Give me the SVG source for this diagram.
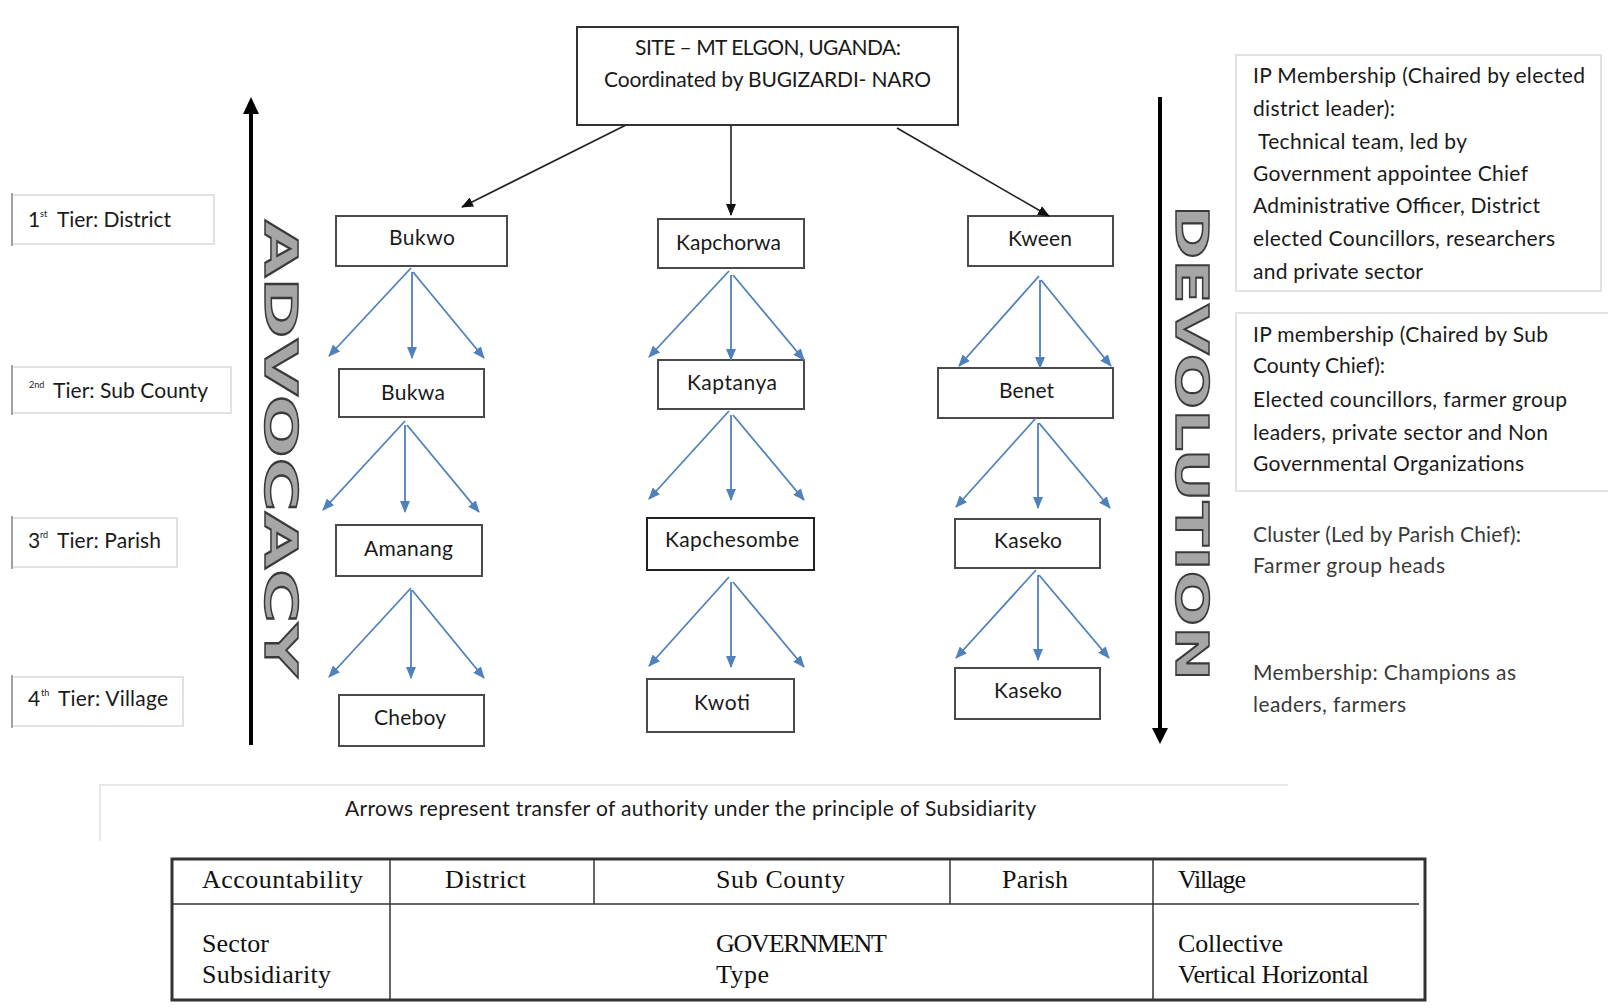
<svg xmlns="http://www.w3.org/2000/svg" width="1608" height="1008" viewBox="0 0 1608 1008">
<defs>
<style>
.sans{font-family:Lato,"Open Sans","Liberation Sans",sans-serif;fill:#1a1a1a}
.node rect{fill:#fff;stroke:#4a4a4a;stroke-width:2}
.node text{font-size:21px}
.tier rect{fill:#fff;stroke:#e2e2e2;stroke-width:2}
.tier line{stroke:#8a8a8a;stroke-width:1.5}
.tier text{font-size:21px}
.tier text.sup{font-size:9px}
.info rect{fill:#fff;stroke:#e2e2e2;stroke-width:2}
.info text{font-size:21px}
.grey{fill:#3a3a3a}
.blue{stroke:#4F81BD;stroke-width:1.8;fill:none;marker-end:url(#mb)}
.blk{stroke:#222;stroke-width:1.6;fill:none;marker-end:url(#mk)}
.big{font-family:"DejaVu Sans","Liberation Sans",sans-serif;font-weight:bold;font-size:45px;fill:#a6a6a6;stroke:#3a3a3a;stroke-width:1.5}
.serif{font-family:"Liberation Serif","Times New Roman",serif;font-size:26px;fill:#111}
.tbl{stroke:#333;fill:none}
</style>
<marker id="mb" viewBox="0 0 12 10" refX="11" refY="5" markerWidth="12" markerHeight="10" markerUnits="userSpaceOnUse" orient="auto"><path d="M0,0 L12,5 L0,10 z" fill="#4F81BD"/></marker>
<marker id="mk" viewBox="0 0 12 10" refX="11" refY="5" markerWidth="12" markerHeight="10" markerUnits="userSpaceOnUse" orient="auto"><path d="M0,0 L12,5 L0,10 z" fill="#111"/></marker>
</defs>
<rect width="1608" height="1008" fill="#fff"/>

<!-- Tier labels -->
<g id="tier1" class="tier sans">
<rect x="12" y="195" width="202" height="49"/><line x1="12" y1="193" x2="12" y2="246"/>
<text x="28" y="227">1</text><text class="sup" x="40" y="217">st</text><text x="57" y="227" textLength="114">Tier: District</text>
</g>
<g id="tier2" class="tier sans">
<rect x="12" y="367" width="219" height="46"/><line x1="12" y1="365" x2="12" y2="415"/>
<text class="sup" x="29" y="388">2nd</text><text x="53" y="398" textLength="155">Tier: Sub County</text>
</g>
<g id="tier3" class="tier sans">
<rect x="12" y="518" width="165" height="49"/><line x1="12" y1="516" x2="12" y2="569"/>
<text x="28" y="548">3</text><text class="sup" x="40" y="538">rd</text><text x="57" y="548" textLength="104">Tier: Parish</text>
</g>
<g id="tier4" class="tier sans">
<rect x="12" y="677" width="171" height="49"/><line x1="12" y1="675" x2="12" y2="728"/>
<text x="28" y="706">4</text><text class="sup" x="41" y="696">th</text><text x="58" y="706" textLength="110">Tier: Village</text>
</g>

<!-- Side arrows and labels -->
<g id="advocacy">
<line x1="251" y1="745" x2="251" y2="112" stroke="#000" stroke-width="4"/>
<polygon points="251,97 243,114 259,114" fill="#000"/>
<text class="big" transform="translate(265,220) rotate(90)" textLength="457" lengthAdjust="spacingAndGlyphs">ADVOCACY</text>
</g>
<g id="devolution">
<line x1="1160" y1="97" x2="1160" y2="730" stroke="#000" stroke-width="4"/>
<polygon points="1160,744 1152,728 1168,728" fill="#000"/>
<text class="big" transform="translate(1176,205) rotate(90)" textLength="476" lengthAdjust="spacingAndGlyphs">DEVOLUTION</text>
</g>

<!-- Top node -->
<g id="site" class="node sans">
<rect x="577" y="27" width="381" height="98" style="stroke:#333"/>
<text x="635" y="55" textLength="266">SITE – MT ELGON, UGANDA:</text>
<text x="604" y="87" textLength="327">Coordinated by BUGIZARDI- NARO</text>
</g>

<!-- Column 1 -->
<g id="bukwo" class="node sans"><rect x="336" y="216" width="171" height="50"/><text x="389" y="245" textLength="66">Bukwo</text></g>
<g id="bukwa" class="node sans"><rect x="339" y="369" width="145" height="48"/><text x="381" y="400" textLength="64">Bukwa</text></g>
<g id="amanang" class="node sans"><rect x="336" y="525" width="146" height="51"/><text x="364" y="556" textLength="89">Amanang</text></g>
<g id="cheboy" class="node sans"><rect x="339" y="695" width="145" height="51"/><text x="374" y="725" textLength="72">Cheboy</text></g>

<!-- Column 2 -->
<g id="kapchorwa" class="node sans"><rect x="658" y="219" width="146" height="49"/><text x="676" y="250" textLength="105">Kapchorwa</text></g>
<g id="kaptanya" class="node sans"><rect x="658" y="360" width="146" height="49"/><text x="687" y="390" textLength="90">Kaptanya</text></g>
<g id="kapchesombe" class="node sans"><rect x="647" y="518" width="167" height="52" style="stroke:#222"/><text x="665" y="547" textLength="134">Kapchesombe</text></g>
<g id="kwoti" class="node sans"><rect x="647" y="679" width="147" height="53"/><text x="694" y="710" textLength="56">Kwoti</text></g>

<!-- Column 3 -->
<g id="kween" class="node sans"><rect x="968" y="216" width="145" height="50"/><text x="1008" y="246" textLength="64">Kween</text></g>
<g id="benet" class="node sans"><rect x="938" y="368" width="175" height="50"/><text x="999" y="398" textLength="55">Benet</text></g>
<g id="kaseko1" class="node sans"><rect x="955" y="519" width="145" height="49"/><text x="994" y="548" textLength="68">Kaseko</text></g>
<g id="kaseko2" class="node sans"><rect x="955" y="668" width="145" height="51"/><text x="994" y="698" textLength="68">Kaseko</text></g>

<!-- Connectors -->
<g id="connectors">
<line class="blk" x1="626" y1="125" x2="462" y2="207"/>
<line class="blk" x1="731" y1="126" x2="731" y2="215"/>
<line class="blk" x1="897" y1="128" x2="1049" y2="216"/>

<line class="blue" x1="411" y1="268" x2="329" y2="356"/>
<line class="blue" x1="412" y1="272" x2="412" y2="358"/>
<line class="blue" x1="413" y1="272" x2="484" y2="358"/>
<line class="blue" x1="405" y1="421" x2="323" y2="510"/>
<line class="blue" x1="405" y1="425" x2="405" y2="512"/>
<line class="blue" x1="407" y1="425" x2="479" y2="512"/>
<line class="blue" x1="411" y1="588" x2="329" y2="677"/>
<line class="blue" x1="411" y1="590" x2="411" y2="678"/>
<line class="blue" x1="412" y1="590" x2="484" y2="678"/>

<line class="blue" x1="729" y1="271" x2="649" y2="357"/>
<line class="blue" x1="731" y1="275" x2="731" y2="360"/>
<line class="blue" x1="733" y1="275" x2="804" y2="360"/>
<line class="blue" x1="729" y1="411" x2="649" y2="499"/>
<line class="blue" x1="731" y1="415" x2="731" y2="500"/>
<line class="blue" x1="733" y1="415" x2="804" y2="500"/>
<line class="blue" x1="729" y1="577" x2="649" y2="666"/>
<line class="blue" x1="731" y1="582" x2="731" y2="667"/>
<line class="blue" x1="733" y1="582" x2="804" y2="667"/>

<line class="blue" x1="1039" y1="276" x2="959" y2="366"/>
<line class="blue" x1="1040" y1="280" x2="1040" y2="368"/>
<line class="blue" x1="1041" y1="280" x2="1111" y2="366"/>
<line class="blue" x1="1036" y1="418" x2="956" y2="507"/>
<line class="blue" x1="1038" y1="423" x2="1038" y2="508"/>
<line class="blue" x1="1039" y1="423" x2="1110" y2="508"/>
<line class="blue" x1="1036" y1="570" x2="956" y2="658"/>
<line class="blue" x1="1038" y1="575" x2="1038" y2="660"/>
<line class="blue" x1="1039" y1="575" x2="1109" y2="658"/>
</g>

<!-- Right info -->
<g id="info-district" class="info sans">
<rect x="1236" y="55" width="365" height="236"/>
<text x="1253" y="83" textLength="332">IP Membership (Chaired by elected</text>
<text x="1253" y="116" textLength="142">district leader):</text>
<text x="1258" y="149" textLength="209">Technical team, led by</text>
<text x="1253" y="181" textLength="275">Government appointee Chief</text>
<text x="1253" y="213" textLength="287">Administrative Officer, District</text>
<text x="1253" y="246" textLength="302">elected Councillors, researchers</text>
<text x="1253" y="279" textLength="170">and private sector</text>
</g>
<g id="info-subcounty" class="info sans">
<rect x="1236" y="313" width="380" height="178"/>
<text x="1253" y="342" textLength="295">IP membership (Chaired by Sub</text>
<text x="1253" y="373" textLength="132">County Chief):</text>
<text x="1253" y="407" textLength="314">Elected councillors, farmer group</text>
<text x="1253" y="440" textLength="295">leaders, private sector and Non</text>
<text x="1253" y="471" textLength="271">Governmental Organizations</text>
</g>
<g id="info-parish" class="info sans">
<text class="grey" x="1253" y="542" textLength="268">Cluster (Led by Parish Chief):</text>
<text class="grey" x="1253" y="573" textLength="192">Farmer group heads</text>
</g>
<g id="info-village" class="info sans">
<text class="grey" x="1253" y="680" textLength="263">Membership: Champions as</text>
<text class="grey" x="1253" y="712" textLength="153">leaders, farmers</text>
</g>

<!-- Caption -->
<g id="caption" class="sans">
<polyline points="100,841 100,785 1288,785" fill="none" stroke="#e8e8e8" stroke-width="2"/>
<text x="345" y="816" font-size="21" textLength="691">Arrows represent transfer of authority under the principle of Subsidiarity</text>
</g>

<!-- Table -->
<g id="table">
<rect class="tbl" x="172" y="859" width="1253" height="141" stroke-width="3"/>
<line class="tbl" x1="172" y1="904" x2="1419" y2="904" stroke-width="1.5"/>
<line class="tbl" x1="390" y1="859" x2="390" y2="1000" stroke-width="1.5"/>
<line class="tbl" x1="594" y1="859" x2="594" y2="904" stroke-width="1.5"/>
<line class="tbl" x1="950" y1="859" x2="950" y2="904" stroke-width="1.5"/>
<line class="tbl" x1="1153" y1="859" x2="1153" y2="1000" stroke-width="1.5"/>
<text class="serif" x="202" y="888" textLength="161">Accountability</text>
<text class="serif" x="445" y="888" textLength="81">District</text>
<text class="serif" x="716" y="888" textLength="129">Sub County</text>
<text class="serif" x="1002" y="888" textLength="66">Parish</text>
<text class="serif" x="1178" y="888" textLength="68">Village</text>
<text class="serif" x="202" y="952" textLength="67">Sector</text>
<text class="serif" x="202" y="983" textLength="129">Subsidiarity</text>
<text class="serif" x="716" y="952" textLength="171">GOVERNMENT</text>
<text class="serif" x="716" y="983" textLength="53">Type</text>
<text class="serif" x="1178" y="952" textLength="105">Collective</text>
<text class="serif" x="1178" y="983" textLength="191">Vertical Horizontal</text>
</g>
</svg>
